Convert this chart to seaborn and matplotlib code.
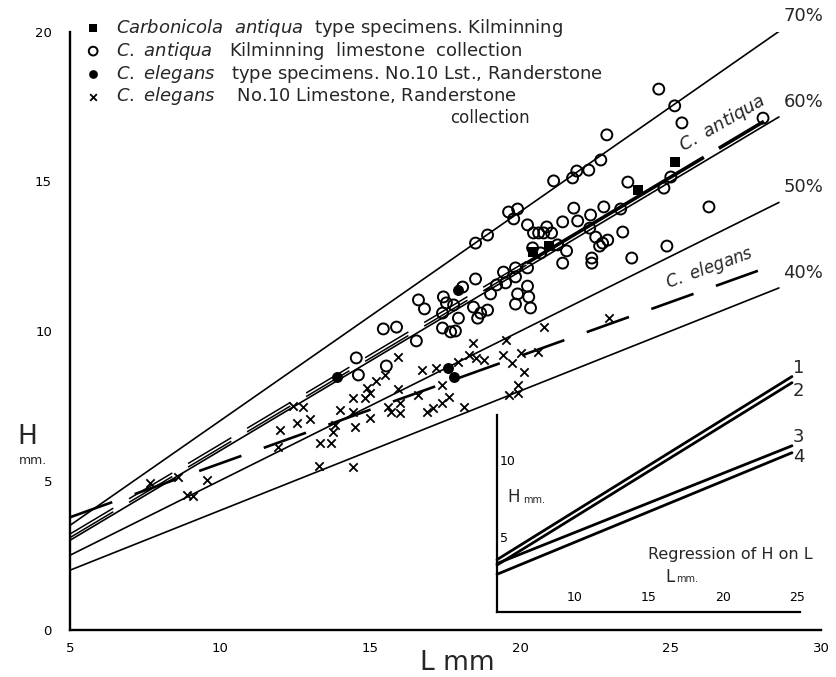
import numpy as np
import pandas as pd
import seaborn as sns
import matplotlib.pyplot as plt

sns.set_theme(style="white")
plt.rcParams["font.family"] = ["DejaVu Sans"]
plt.rcParams["mathtext.fontset"] = "dejavusans"

# --- data (L = length mm, H = height mm) ---
# C. antiqua, Kilminning limestone collection (open circles)
antiqua_L = [24.6, 25.13, 25.37, 28.07, 22.87, 22.67, 22.27, 21.87, 21.73, 21.1,
             23.57, 25.0, 24.77, 26.27, 21.77, 21.9, 22.77, 23.33, 23.4, 22.33,
             22.3, 22.5, 22.73, 22.9, 22.63, 21.4, 22.37, 22.37, 23.7, 24.87,
             20.23, 20.87, 21.03, 20.43, 20.6, 20.77, 21.4, 21.53, 21.23, 19.6,
             19.9, 19.77, 18.9, 18.5, 20.4, 20.67, 20.23, 19.83, 19.83, 19.43,
             19.2, 19.5, 20.23, 20.27, 19.0, 19.9, 19.83, 20.33, 18.5, 18.07,
             18.43, 18.67, 18.57, 18.9, 17.53, 17.77, 17.43, 17.93, 17.4, 16.6,
             16.8, 15.43, 15.87, 16.53, 14.53, 15.53, 14.6, 17.4, 17.67, 17.83]
antiqua_H = [18.09, 17.53, 16.96, 17.12, 16.56, 15.72, 15.38, 15.35, 15.12, 15.02,
             14.98, 15.15, 14.78, 14.15, 14.11, 13.68, 14.15, 14.08, 13.31, 13.88,
             13.44, 13.14, 12.94, 13.04, 12.84, 12.27, 12.44, 12.27, 12.44, 12.84,
             13.55, 13.48, 13.28, 13.28, 13.28, 13.28, 13.65, 12.68, 12.88, 13.98,
             14.08, 13.75, 13.21, 12.94, 12.78, 12.61, 12.11, 12.11, 11.81, 11.97,
             11.54, 11.61, 11.5, 11.14, 11.24, 11.24, 10.9, 10.77, 11.74, 11.47,
             10.8, 10.6, 10.43, 10.7, 10.94, 10.87, 11.14, 10.43, 10.6, 11.04,
             10.74, 10.07, 10.13, 9.67, 9.1, 8.83, 8.53, 10.1, 9.97, 10.0]

# Carbonicola antiqua type specimens (black squares)
antiqua_type_L = [20.4, 20.93, 23.9, 25.13]
antiqua_type_H = [12.64, 12.84, 14.72, 15.65]

# C. elegans type specimens (black dots)
elegans_type_L = [13.9, 17.9, 17.57, 17.77]
elegans_type_H = [8.46, 11.37, 8.76, 8.46]

# C. elegans, No.10 Limestone collection (crosses)
elegans_L = [7.67, 8.6, 8.9, 9.1, 9.57, 12.43, 12.77, 12.0, 12.57, 13.0,
             11.93, 13.33, 13.7, 13.3, 14.43, 14.0, 13.83, 13.77, 14.43, 14.43,
             14.5, 14.9, 15.0, 14.83, 15.17, 15.5, 15.93, 16.73, 17.17, 15.0,
             15.57, 15.67, 16.0, 16.0, 15.93, 16.57, 16.9, 17.1, 17.4, 17.6,
             17.4, 18.1, 18.4, 18.27, 18.5, 18.77, 17.9, 19.5, 19.4, 19.73,
             20.0, 20.57, 20.1, 20.77, 19.9, 19.6, 19.93, 22.93]
elegans_H = [4.92, 5.12, 4.52, 4.48, 5.02, 7.49, 7.46, 6.69, 6.92, 7.06,
             6.12, 6.25, 6.25, 5.48, 5.45, 7.36, 6.86, 6.62, 7.76, 7.29,
             6.79, 8.09, 7.93, 7.76, 8.33, 8.53, 9.13, 8.7, 8.76, 7.09,
             7.46, 7.29, 7.26, 7.59, 8.06, 7.86, 7.29, 7.42, 7.59, 7.79,
             8.19, 7.46, 9.6, 9.2, 9.1, 9.03, 8.96, 9.7, 9.2, 8.93,
             9.26, 9.3, 8.63, 10.13, 8.19, 7.86, 7.93, 10.43]

# H/L ratio guide lines
ratio_pcts = [70, 60, 50, 40]
ratio_L = [5, 28.6]

# regression lines (intercept, slope)
antiqua_fit = (0.15, 0.60)
elegans_fit = (1.97, 0.36)

# inset: regression of H on L
inset_names = ["1", "2", "3", "4"]
inset_L = [4.75, 24.66]
inset_H_start = [3.5, 3.15, 3.25, 2.55]
inset_H_end = [15.4, 15.0, 10.9, 10.45]

# --- figure ---
fig = plt.figure(figsize=(8.36, 6.77), dpi=100)
ax = fig.add_axes([70 / 836, 47 / 677, 751 / 836, 598 / 677])
ax.set_xlim(5, 30)
ax.set_ylim(0, 20)

for p in ratio_pcts:
    Ls = np.array(ratio_L)
    ax.plot(Ls, Ls * p / 100, color="black", lw=1.2, zorder=2)
    ax.text(Ls[-1] + 0.15, Ls[-1] * p / 100 + 0.5, f"{p}%", fontsize=13,
            ha="left", va="center")

# C. antiqua regression: double-stroked dashes, then a bold solid run
a0, a1 = antiqua_fit
L_dash = np.array([5, 20.2])
for off in (-0.06, 0.06):
    ax.plot(L_dash, a0 + a1 * L_dash + off, color="black", lw=1.1,
            dashes=(33, 12), zorder=2)
for seg in ([20.2, 26.1], [26.6, 28.1]):
    seg = np.array(seg)
    ax.plot(seg, a0 + a1 * seg, color="black", lw=2.6, zorder=2,
            solid_capstyle="butt")
ax.text(26.9, a0 + a1 * 26.9 + 0.35, r"$\it{C.\ antiqua}$", fontsize=13,
        rotation=30, ha="center", va="bottom", rotation_mode="anchor")

# C. elegans regression: long dashes
e0, e1 = elegans_fit
L_el = np.array([5, 27.9])
ax.plot(L_el, e0 + e1 * L_el, color="black", lw=1.9, dashes=(17, 9), zorder=2)
ax.text(26.4, e0 + e1 * 26.4 + 0.3, r"$\it{C.\ elegans}$", fontsize=12,
        rotation=20, ha="center", va="bottom", rotation_mode="anchor")

# points
sns.scatterplot(x=antiqua_type_L, y=antiqua_type_H, ax=ax, marker="s", s=60,
                color="black", edgecolor="black", linewidth=0, zorder=4,
                label=r"$\it{Carbonicola\ \ antiqua}$  type specimens. Kilminning")
sns.scatterplot(x=antiqua_L, y=antiqua_H, ax=ax, marker="o", s=62,
                facecolor="none", edgecolor="black", linewidth=1.4, zorder=3,
                label=r"$\it{C.\ antiqua}$   Kilminning  limestone  collection")
sns.scatterplot(x=elegans_type_L, y=elegans_type_H, ax=ax, marker="o", s=62,
                color="black", edgecolor="black", linewidth=0, zorder=4,
                label=r"$\it{C.\ elegans}$   type specimens. No.10 Lst., Randerstone")
sns.scatterplot(x=elegans_L, y=elegans_H, ax=ax, marker="x", s=36,
                color="black", linewidth=1.3, zorder=3,
                label=r"$\it{C.\ elegans}$    No.10 Limestone, Randerstone")

leg = ax.legend(loc="upper left", bbox_to_anchor=(0.008, 1.043), frameon=False,
                fontsize=13, handlelength=0.7, handletextpad=0.9,
                labelspacing=0.04, borderaxespad=0.2, markerscale=0.8)
fig.text(530 / 836, 1 - 118 / 677, "collection", fontsize=12, ha="right",
         va="center")

# axes styling
for side in ("top", "right"):
    ax.spines[side].set_visible(False)
for side in ("left", "bottom"):
    ax.spines[side].set_color("black")
    ax.spines[side].set_linewidth(1.7)
ax.set_xticks([5, 10, 15, 20, 25, 30])
ax.set_yticks([0, 5, 10, 15, 20])
ax.tick_params(direction="inout", length=6, width=1.2, colors="black",
               labelsize=9.5)
ax.tick_params(axis="y", pad=10)
ax.tick_params(axis="x", pad=6)
ax.set_xlabel("")
ax.set_ylabel("")
fig.text(457 / 836, 1 - 663 / 677, "L mm", fontsize=19, ha="center", va="center")
fig.text(27 / 836, 1 - 437 / 677, "H", fontsize=19, ha="center", va="center")
fig.text(33 / 836, 1 - 460 / 677, "mm.", fontsize=9, ha="center", va="center")

# inset
axi = fig.add_axes([497 / 836, 65 / 677, 303 / 836, 197 / 677])
axi.set_xlim(4.75, 25.2)
axi.set_ylim(0.1, 12.9)
axi.patch.set_alpha(0)
for name, h0, h1 in zip(inset_names, inset_H_start, inset_H_end):
    axi.plot(inset_L, [h0, h1], color="black", lw=2.0, clip_on=False)
label_offsets = {"1": 0.55, "2": -0.55, "3": 0.55, "4": -0.3}
for name, h1 in zip(inset_names, inset_H_end):
    axi.text(inset_L[1] + 0.45, h1 + label_offsets[name], name, fontsize=13,
             ha="center", va="center", clip_on=False)
for side in ("top", "right"):
    axi.spines[side].set_visible(False)
for side in ("left", "bottom"):
    axi.spines[side].set_color("black")
    axi.spines[side].set_linewidth(1.6)
axi.set_xticks([10, 15, 20, 25])
axi.set_yticks([5, 10])
axi.tick_params(axis="x", direction="in", length=4, width=1.2, pad=-6,
                labelsize=9, colors="black")
axi.tick_params(axis="y", direction="out", length=3, width=1.2, pad=-5,
                labelsize=9, colors="black")
for t in axi.get_xticklabels():
    t.set_va("bottom")
for t in axi.get_yticklabels():
    t.set_ha("left")
axi.text(0.035, 0.585, "H", transform=axi.transAxes, fontsize=12, ha="left",
         va="center")
axi.text(0.085, 0.57, "mm.", transform=axi.transAxes, fontsize=7, ha="left",
         va="center")
axi.text(0.555, 0.18, "L", transform=axi.transAxes, fontsize=12, ha="left",
         va="center")
axi.text(0.59, 0.17, "mm.", transform=axi.transAxes, fontsize=7, ha="left",
         va="center")
axi.text(0.50, 0.29, "Regression of H on L", transform=axi.transAxes,
         fontsize=11.5, ha="left", va="center", clip_on=False)

fig.savefig("out.png", dpi=100)
